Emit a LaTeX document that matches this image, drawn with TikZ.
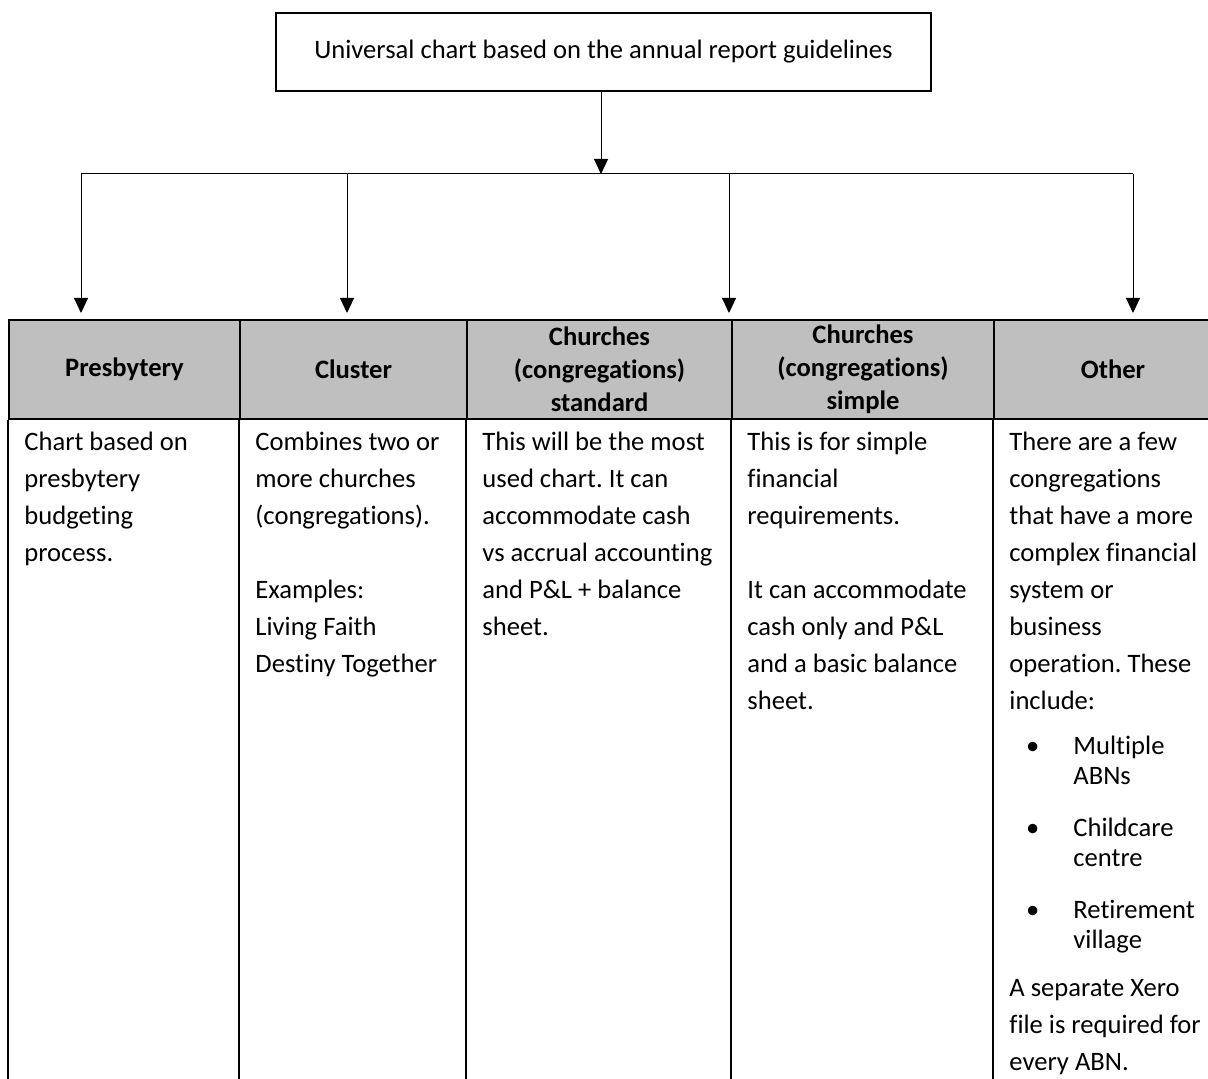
\documentclass[tikz,border=0pt]{standalone}
\usepackage{fontspec}
\setmainfont[Ligatures=NoCommon]{Carlito}
\frenchspacing
\usetikzlibrary{arrows.meta}
\definecolor{hd}{RGB}{191,191,191}

\begin{document}
\begin{tikzpicture}[
    x=0.5pt, y=-0.5pt,
    font=\fontsize{13.3}{18.5}\selectfont,
    rootbox/.style={
        draw, line width=0.75pt,
        minimum width=327.5pt, minimum height=39pt
    },
    head/.style={
        draw, fill=hd, line width=1pt,
        minimum height=49.5pt, inner sep=0,
        align=center, font=\fontsize{13.3}{16.5}\selectfont\bfseries
    },
    note/.style={
        anchor=north west, inner sep=0, align=left,
        execute at begin node={\rule{0pt}{11pt}}
    },
    item/.style={
        note, font=\fontsize{13.3}{15}\selectfont
    },
    wire/.style={line width=0.5pt},
    arr/.style={
        wire, -{Triangle[length=7.5pt,width=7pt]}
    },
    grid/.style={line width=1pt}
]
    \clip (0,0) rectangle (1208,1079);

    \node (guidelines) [rootbox] at (603.5,52)
        {Universal chart based on the annual report guidelines};

    \coordinate (bus) at (601,174);
    \draw [arr] (guidelines.south -| bus) -- (bus);

    \foreach \x [count=\i] in {81,347,729,1133} {
        \coordinate (top\i) at (\x,174);
        \coordinate (tip\i) at (\x,313);
        \draw [arr] (top\i) -- (tip\i);
    }
    \draw [wire] (top1) -- (top4);

    \node (presbytery) [head, minimum width=115.5pt] at (124.5,369.5)
        {Presbytery};
    \node (cluster) [head, minimum width=113.5pt] at (353.5,369.5)
        {Cluster};
    \node (standard) [head, minimum width=132.5pt] at (599.5,369.5)
        {Churches\\(congregations)\\standard};
    \node (simple) [head, minimum width=131pt] at (863,369.5)
        {Churches\\(congregations)\\simple};
    \node (other) [head, minimum width=119pt] at (1113,369.5)
        {Other};

    \foreach \n in {presbytery,cluster,standard,simple,other}
        \draw [grid] (\n.south west) -- ++(0,700);
    \draw [grid] (other.south east) -- ++(0,700);

    \node (presbyterynote) [note] at (24,432)
        {Chart based on\\presbytery\\budgeting\\process.};
    \node (clusternote) [note] at (255,432)
        {Combines two or\\more churches\\(congregations).\\[18.5pt]%
         Examples:\\Living Faith\\Destiny Together};
    \node (standardnote) [note] at (482,432)
        {This will be the most\\used chart. It can\\accommodate cash\\%
         vs accrual accounting\\and P\&L + balance\\sheet.};
    \node (simplenote) [note] at (747,432)
        {This is for simple\\financial\\requirements.\\[18.5pt]%
         It can accommodate\\cash only and P\&L\\and a basic balance\\sheet.};
    \node (othernote) [note] at (1009,432)
        {There are a few\\congregations\\that have a more\\complex financial\\%
         system or\\business\\operation. These\\include:};

    \node (abns) [item] at (1073,736)
        {\llap{\textbullet\hspace{17pt}}Multiple\\ABNs};
    \node (childcare) [item] at (1073,818)
        {\llap{\textbullet\hspace{17pt}}Childcare\\centre};
    \node (retirement) [item] at (1073,900)
        {\llap{\textbullet\hspace{17pt}}Retirement\\village};

    \node (xero) [note] at (1009,979)
        {A separate Xero\\file is required for\\every ABN.};
\end{tikzpicture}
\end{document}
